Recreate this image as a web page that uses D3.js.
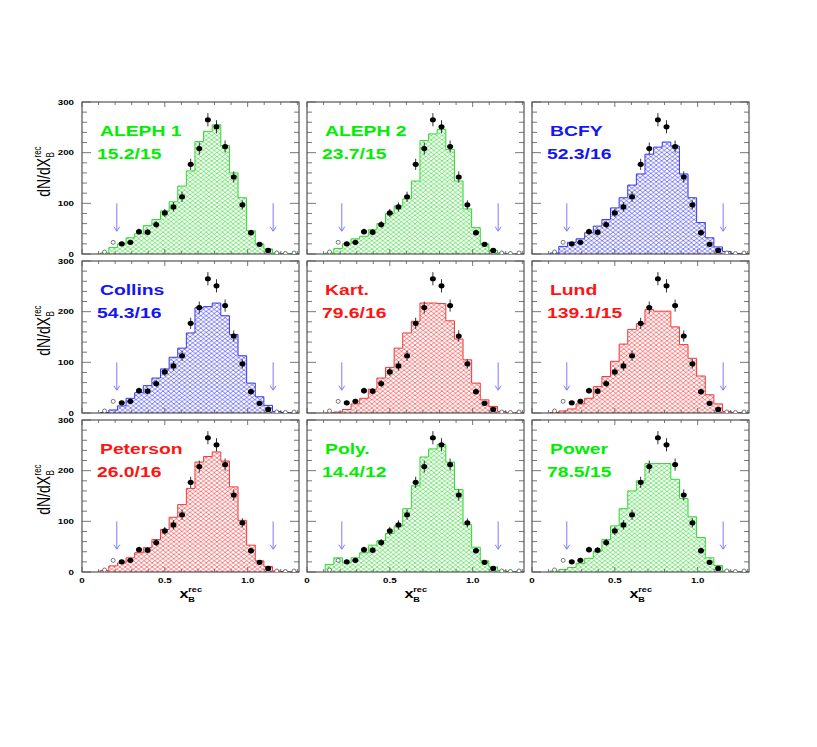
<!DOCTYPE html>
<html>
<head>
<meta charset="utf-8">
<script src="https://cdn.jsdelivr.net/npm/d3@7"></script>
<style>
  body { margin: 0; background: #fff; }
  svg { display: block; }
  text { font-family: "Liberation Sans", Arial, Helvetica, sans-serif; }
</style>
</head>
<body>
<svg id="chart" width="817" height="747"></svg>
<script>
// bins of x_B^rec (centres), shared by all panels
const binCenters = [0.136, 0.188, 0.240, 0.292, 0.344, 0.396, 0.448, 0.500, 0.552, 0.604, 0.656, 0.708,
                    0.760, 0.812, 0.864, 0.916, 0.968, 1.020, 1.072, 1.124, 1.176, 1.228, 1.280]
const binWidth = 0.052

// measured data (same in every panel)
const dataValues = [4, 23, 20, 23, 44, 43, 58, 81, 93, 113, 177, 208, 265, 251, 212, 152, 97, 42, 19, 7, 2, 1, 2]
const dataErrors = [0, 0, 4, 5, 6, 6, 7, 8, 9, 10, 11, 12, 13, 13, 12, 11, 9, 6, 4, 3, 0, 0, 0]
const excludedBins = [0, 1, 20, 21, 22]   // drawn as open circles, outside the fit range
const fitRangeArrows = [0.21, 1.154]

// model histograms
const aleph1 = [2, 13, 20, 32, 40, 56, 68, 85, 103, 134, 164, 222, 242, 255, 214, 160, 111, 46, 20, 10, 2, 1, 0]
const aleph2 = [2, 11, 20, 30, 35, 48, 60, 80, 95, 109, 144, 224, 237, 246, 206, 144, 89, 52, 20, 7, 2, 0, 0]
const bcfy = [2, 15, 23, 30, 42, 55, 68, 91, 111, 136, 158, 197, 211, 221, 213, 158, 111, 62, 32, 14, 5, 1, 0]
const collins = [1, 6, 14, 29, 40, 54, 69, 87, 110, 128, 158, 208, 210, 217, 192, 155, 113, 59, 32, 15, 3, 1, 0]
const kart = [0, 2, 7, 18, 29, 47, 69, 90, 128, 158, 181, 217, 217, 216, 182, 146, 105, 59, 26, 13, 3, 0, 0]
const lund = [1, 4, 8, 18, 29, 52, 72, 102, 136, 165, 176, 204, 201, 201, 170, 135, 108, 73, 36, 18, 3, 1, 0]
const peterson = [3, 12, 18, 28, 38, 48, 64, 84, 108, 133, 165, 217, 228, 237, 219, 168, 102, 53, 22, 11, 2, 1, 0]
const poly = [15, 28, 18, 28, 38, 53, 62, 76, 91, 125, 170, 227, 243, 252, 217, 163, 94, 49, 22, 10, 3, 1, 0]
const power = [2, 5, 9, 17, 27, 41, 64, 91, 125, 160, 180, 214, 214, 214, 183, 145, 109, 68, 28, 13, 2, 1, 0]

const panelNames = ["ALEPH 1", "ALEPH 2", "BCFY", "Collins", "Kart.", "Lund", "Peterson", "Poly.", "Power"]
const panelChi2 = ["15.2/15", "23.7/15", "52.3/16", "54.3/16", "79.6/16", "139.1/15", "26.0/16", "14.4/12", "78.5/15"]
const panelColors = ["green", "green", "blue", "blue", "red", "red", "red", "green", "green"]
const panelHists = [aleph1, aleph2, bcfy, collins, kart, lund, peterson, poly, power]

const xTickLabels = [0, 0.5, 1.0]
const yTickLabels = [0, 100, 200, 300]

// ---- layout
const colLeft = [82, 307, 532]
const rowTop = [102, 261, 420]
const panelW = 217, panelH = 152
const stretch = 1.3   // the original figure is stretched horizontally

const palette = {
    green: {text: "#00ee00", line: "#33d633"},
    blue: {text: "#1414f5", line: "#3838ee"},
    red: {text: "#ff1414", line: "#f23838"}
}

const svg = d3.select("#chart")
const defs = svg.append("defs")

Object.keys(palette).forEach(name => {
    let p = defs.append("pattern")
        .attr("id", "hatch-" + name)
        .attr("patternUnits", "userSpaceOnUse")
        .attr("width", 5.4).attr("height", 4.2)
    p.append("path")
        .attr("d", "M0,0 L5.4,4.2 M0,4.2 L5.4,0")
        .attr("stroke", palette[name].line)
        .attr("stroke-width", 0.65)
        .attr("fill", "none")
})

const x = d3.scaleLinear().domain([0, 1.31]).range([0, panelW])
const y = d3.scaleLinear().domain([0, 300]).range([panelH, 0])

function stretchedText(g, px, py, str, size, weight, anchor, color, sx) {
    return g.append("text")
        .attr("transform", `translate(${px},${py}) scale(${sx || stretch},1)`)
        .attr("text-anchor", anchor || "start")
        .attr("font-size", size)
        .attr("font-weight", weight || "bold")
        .attr("fill", color || "#000")
        .text(str)
}

const minorX = d3.range(0, 14).map(i => i / 10)
const majorX = [0, 0.5, 1.0]
const minorY = d3.range(0, 16).map(i => i * 20)
const majorY = [0, 100, 200, 300]

panelHists.forEach((hist, k) => {
    let col = k % 3, row = Math.floor(k / 3)
    let g = svg.append("g").attr("transform", `translate(${colLeft[col]},${rowTop[row]})`)
    let colr = palette[panelColors[k]]

    g.append("clipPath").attr("id", "clip" + k)
        .append("rect").attr("width", panelW).attr("height", panelH)

    // histogram
    let pts = [{e: binCenters[0] - binWidth / 2, v: 0}]
    hist.forEach((v, i) => pts.push({e: binCenters[i] - binWidth / 2, v: v}))
    pts.push({e: binCenters[binCenters.length - 1] + binWidth / 2, v: 0})

    let area = d3.area().x(d => x(d.e)).y0(y(0)).y1(d => y(d.v)).curve(d3.curveStepAfter)
    let line = d3.line().x(d => x(d.e)).y(d => y(d.v)).curve(d3.curveStepAfter)
    let hg = g.append("g").attr("clip-path", `url(#clip${k})`)
    hg.append("path").attr("d", area(pts)).attr("fill", `url(#hatch-${panelColors[k]})`)
    hg.append("path").attr("d", line(pts)).attr("fill", "none")
        .attr("stroke", colr.line).attr("stroke-width", 1)

    // frame + inward ticks
    g.append("rect").attr("width", panelW).attr("height", panelH)
        .attr("fill", "none").attr("stroke", "#333").attr("stroke-width", 1)

    let tickLines = []
    minorX.forEach(t => {
        let len = majorX.includes(t) ? 5 : 3
        tickLines.push([x(t), panelH, x(t), panelH - len], [x(t), 0, x(t), len])
    })
    minorY.forEach(t => {
        let len = majorY.includes(t) ? 9 : 5
        tickLines.push([0, y(t), len, y(t)], [panelW, y(t), panelW - len, y(t)])
    })
    g.append("g").selectAll("line").data(tickLines).join("line")
        .attr("x1", d => d[0]).attr("y1", d => d[1])
        .attr("x2", d => d[2]).attr("y2", d => d[3])
        .attr("stroke", "#555").attr("stroke-width", 0.8)

    // fit range arrows
    let ag = g.append("g").attr("stroke", "#7c7cff").attr("stroke-width", 1).attr("fill", "none")
    fitRangeArrows.forEach(a => {
        let ax = x(a), top = y(100), tip = y(45)
        ag.append("line").attr("x1", ax).attr("x2", ax).attr("y1", top).attr("y2", tip)
        ag.append("path").attr("d", `M${ax - 3},${tip - 4.5} L${ax},${tip} L${ax + 3},${tip - 4.5}`)
    })

    // data points
    let pg = g.append("g").attr("clip-path", `url(#clip${k})`)
    binCenters.forEach((c, i) => {
        let v = dataValues[i]
        if (excludedBins.includes(i)) {
            pg.append("circle").attr("cx", x(c)).attr("cy", y(v)).attr("r", 2)
                .attr("fill", "#fff").attr("stroke", "#555").attr("stroke-width", 0.8)
            return
        }
        pg.append("line").attr("x1", x(c)).attr("x2", x(c))
            .attr("y1", y(v - dataErrors[i])).attr("y2", y(v + dataErrors[i]))
            .attr("stroke", "#333").attr("stroke-width", 1)
        pg.append("ellipse").attr("cx", x(c)).attr("cy", y(v)).attr("rx", 3).attr("ry", 2.6)
            .attr("fill", "#000")
    })

    // model name and chi2/ndf
    stretchedText(g, 18, 34, panelNames[k], 14, "bold", "start", colr.text, 1.38)
    stretchedText(g, 15, 57, panelChi2[k], 14, "bold", "start", colr.text, 1.38)

    // axis tick labels
    if (col === 0) {
        yTickLabels.forEach(t => stretchedText(g, -8, y(t) + 2.7, String(t), 7.5, "bold", "end"))
    }
    if (row === 2) {
        xTickLabels.forEach(t => stretchedText(g, x(t), panelH + 11, t === 0 ? "0" : d3.format(".1f")(t), 7.5, "bold", "middle"))
        let lg = g.append("g").attr("transform", `translate(${panelW / 2 - 11},${panelH + 26}) scale(${stretch},1)`)
        lg.append("text").attr("font-size", 12.5).attr("font-weight", "bold").text("x")
        lg.append("text").attr("x", 6.8).attr("y", -6.5).attr("font-size", 7).attr("font-weight", "bold").text("rec")
        lg.append("text").attr("x", 6.8).attr("y", 4).attr("font-size", 7).attr("font-weight", "bold").text("B")
    }
})

// y axis titles
rowTop.forEach(top => {
    let lg = svg.append("g").attr("transform", `translate(50,${top + 70}) scale(1.25,1) rotate(-90)`)
    lg.append("text").attr("x", 14).attr("text-anchor", "end").attr("font-size", 14).text("dN/dX")
    lg.append("text").attr("x", 14.5).attr("y", -7).attr("font-size", 8).text("rec")
    lg.append("text").attr("x", 14.5).attr("y", 3).attr("font-size", 8).text("B")
})
</script>
</body>
</html>
